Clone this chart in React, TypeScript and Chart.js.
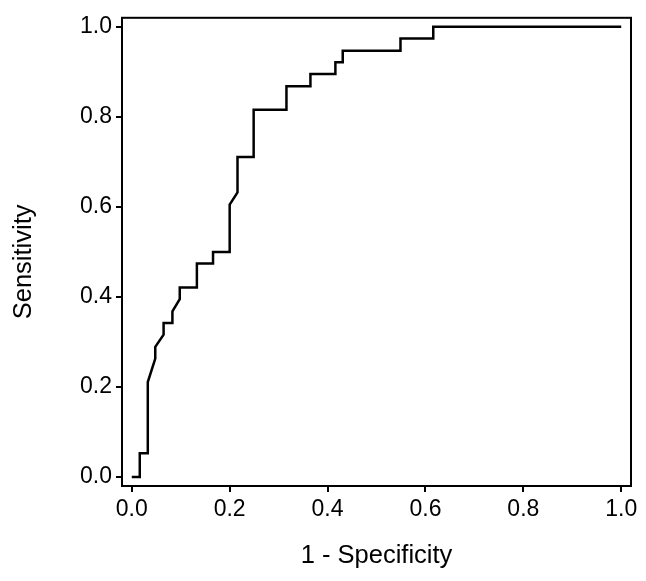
import React, { useEffect, useRef } from "react";
import { Chart, registerables } from "chart.js";

Chart.register(...registerables);

// ROC curve vertices (1 - specificity, sensitivity)
const fpr = [
  0.0, 0.0163, 0.0163, 0.0327, 0.0327, 0.048, 0.048, 0.065, 0.065, 0.083,
  0.083, 0.098, 0.098, 0.133, 0.133, 0.166, 0.166, 0.2, 0.2, 0.216,
  0.216, 0.249, 0.249, 0.316, 0.316, 0.365, 0.365, 0.416, 0.416, 0.431,
  0.431, 0.549, 0.549, 0.616, 0.616, 1.0,
];
const tpr = [
  0.0, 0.0, 0.053, 0.053, 0.211, 0.263, 0.289, 0.316, 0.342, 0.342,
  0.368, 0.395, 0.421, 0.421, 0.474, 0.474, 0.5, 0.5, 0.605, 0.632,
  0.711, 0.711, 0.816, 0.816, 0.868, 0.868, 0.895, 0.895, 0.921, 0.921,
  0.947, 0.947, 0.974, 0.974, 1.0, 1.0,
];
const tickValues = [0, 0.2, 0.4, 0.6, 0.8, 1.0];
const xTitle = "1 - Specificity";
const yTitle = "Sensitivity";

const FONT = "'Liberation Sans', Arial, Helvetica, sans-serif";

const boxPlugin = {
  id: "box",
  afterDraw(chart: any) {
    const { ctx, chartArea } = chart;
    ctx.save();
    ctx.strokeStyle = "#000";
    ctx.lineWidth = 2;
    ctx.strokeRect(
      chartArea.left,
      chartArea.top,
      chartArea.right - chartArea.left,
      chartArea.bottom - chartArea.top
    );
    // y-axis title, placed like the reference (slightly below plot centre)
    ctx.fillStyle = "#000";
    ctx.font = `25.5px ${FONT}`;
    ctx.textAlign = "center";
    ctx.textBaseline = "middle";
    ctx.translate(24, (chartArea.top + chartArea.bottom) / 2 + 10);
    ctx.rotate(-Math.PI / 2);
    ctx.fillText(yTitle, 0, 0);
    ctx.restore();
  },
};

export default function App() {
  const ref = useRef<HTMLCanvasElement | null>(null);
  useEffect(() => {
    if (!ref.current) return;
    const data = fpr.map((x, i) => ({ x, y: tpr[i] }));
    const tickCfg = {
      color: "#000",
      font: { family: FONT, size: 23 },
      padding: 4,
      includeBounds: false,
      stepSize: 0.2,
      callback: (v: number) =>
        tickValues.some((t) => Math.abs(t - v) < 1e-6) ? v.toFixed(1) : null,
    };
    const chart = new Chart(ref.current, {
      type: "line",
      data: {
        datasets: [
          {
            data,
            borderColor: "#000",
            borderWidth: 2.5,
            pointRadius: 0,
            fill: false,
            tension: 0,
          },
        ],
      },
      options: {
        responsive: false,
        animation: false,
        layout: { padding: { top: 10, right: 15, left: 0, bottom: 0 } },
        plugins: { legend: { display: false }, tooltip: { enabled: false } },
        scales: {
          x: {
            type: "linear",
            min: -0.02,
            max: 1.02,
            ticks: tickCfg as any,
            grid: {
              drawOnChartArea: false,
              drawTicks: true,
              tickLength: 6,
              color: "#000",
              lineWidth: 2,
            },
            border: { display: false },
            title: {
              display: true,
              text: xTitle,
              color: "#000",
              font: { family: FONT, size: 25.5 },
              padding: { top: 0, bottom: 10 },
            },
            afterFit: (s: any) => {
              s.height = 95;
            },
          },
          y: {
            type: "linear",
            min: -0.02,
            max: 1.02,
            ticks: tickCfg as any,
            grid: {
              drawOnChartArea: false,
              drawTicks: true,
              tickLength: 6,
              color: "#000",
              lineWidth: 2,
            },
            border: { display: false },
            afterFit: (s: any) => {
              s.width = 122;
            },
          },
        },
      },
      plugins: [boxPlugin],
    });
    return () => chart.destroy();
  }, []);
  return (
    <div style={{ position: "absolute", left: 0, top: 0, width: 646, height: 581, background: "#fff" }}>
      <canvas ref={ref} width={646} height={581} style={{ display: "block" }} />
    </div>
  );
}
